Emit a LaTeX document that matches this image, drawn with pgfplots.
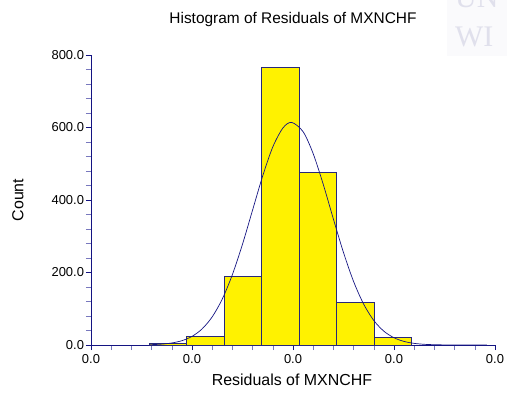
\documentclass[border=0pt]{standalone}
\usepackage{fontspec}
\setmainfont{Liberation Sans}
\newfontfamily\wmfont{Liberation Serif}
\usepackage{pgfplots}
\pgfplotsset{compat=1.18}
\definecolor{axnavy}{RGB}{20,20,130}
\definecolor{minorc}{RGB}{120,120,190}
\definecolor{baredge}{RGB}{40,40,120}
\definecolor{wmpanel}{RGB}{250,250,252}
\definecolor{wmtext}{RGB}{224,224,236}
\begin{document}
\begin{tikzpicture}
\path[use as bounding box] (0,0) rectangle (507bp,396bp);
\begin{scope}
\clip (0,0) rectangle (507bp,396bp);
\fill[wmpanel] (447bp,340bp) rectangle (507bp,396bp);
\node[anchor=base west, inner sep=0pt, text=wmtext, font=\wmfont\fontsize{30}{32}\selectfont] at (455bp,388bp) {UN};
\node[anchor=base west, inner sep=0pt, text=wmtext, font=\wmfont\fontsize{30}{32}\selectfont] at (455bp,349bp) {WI};
\end{scope}
\begin{axis}[
  at={(91bp,51bp)}, anchor=south west,
  scale only axis, width=404bp, height=290bp,
  xmin=0, xmax=4, ymin=0, ymax=800,
  axis lines*=left,
  axis line style={axnavy, line width=0.6pt},
  xtick={0,1,2,3,4},
  xticklabels={0.0,0.0,0.0,0.0,0.0},
  ytick={0,200,400,600,800},
  yticklabels={0.0,200.0,400.0,600.0,800.0},
  minor x tick num=4, minor y tick num=4,
  tick align=outside,
  major tick length=5bp, minor tick length=5bp,
  every tick/.style={axnavy, line width=0.6pt},
  every minor tick/.style={minorc, line width=0.6pt},
  tick label style={font=\fontsize{13}{15}\selectfont, black},
  xticklabel style={yshift=-0.5bp},
  yticklabel style={xshift=1.5bp},
  /pgf/number format/assume math mode=true,
  clip=false,
]
\addplot[ybar interval, fill=yellow, draw=baredge, line width=0.75pt] coordinates {
 (0.577,4) (0.948,23) (1.319,190) (1.690,766) (2.061,477) (2.433,118) (2.804,22) (3.175,22)
};
\addplot[axnavy, line width=0.7pt, smooth, no marks] coordinates {
 (0.58,0.9) (0.6,1.0) (0.7,2.4) (0.8,5.6) (0.9,11.9) (1.0,23.7) (1.1,44.4) (1.2,77.6)
 (1.3,127.0) (1.4,194.3) (1.5,278.1) (1.6,372.4) (1.7,466.4) (1.8,546.4) (1.9,598.6)
 (1.987,614) (2.1,588.4) (2.2,527.7) (2.3,442.7) (2.4,347.4) (2.5,255.0) (2.6,175.1)
 (2.7,112.5) (2.8,67.6) (2.9,38.0) (3.0,20.0) (3.1,9.8) (3.2,4.5) (3.3,1.9) (3.4,0.8)
 (3.5,0.3) (3.6,0.1) (3.7,0.0) (3.8,0.0) (3.92,0.0)
};
\end{axis}
\node[font=\fontsize{15.5}{18}\selectfont] at (293bp,376bp) {Histogram of Residuals of MXNCHF};
\node[font=\fontsize{16}{18}\selectfont] at (292bp,16bp) {Residuals of MXNCHF};
\node[font=\fontsize{16}{18}\selectfont, rotate=90] at (18bp,196bp) {Count};
\end{tikzpicture}
\end{document}
